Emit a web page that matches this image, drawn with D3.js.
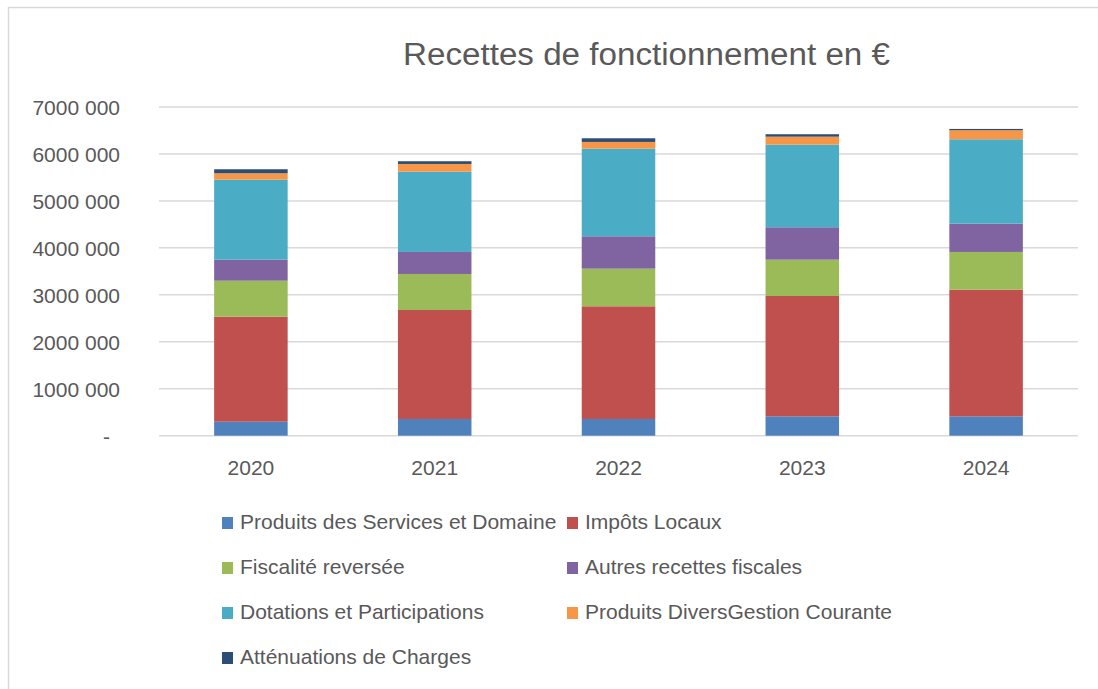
<!DOCTYPE html>
<html lang="fr">
<head>
<meta charset="UTF-8">
<title>Recettes de fonctionnement</title>
<style>
  body { margin: 0; background: #fff; }
  svg text { font-family: "Liberation Sans", Arial, sans-serif; fill: #595959; }
</style>
</head>
<body>
<svg id="chart" width="1098" height="689"></svg>
<script src="https://cdn.jsdelivr.net/npm/d3@7"></script>
<script>
"use strict";

var years = ["2020", "2021", "2022", "2023", "2024"];
var seriesNames = [
  "Produits des Services et Domaine",
  "Impôts Locaux",
  "Fiscalité reversée",
  "Autres recettes fiscales",
  "Dotations et Participations",
  "Produits DiversGestion Courante",
  "Atténuations de Charges"
];
var seriesColors = ["#4F81BD", "#C0504D", "#9BBB59", "#8064A2", "#4BACC6", "#F79646", "#2C4D75"];

var produitsServices = [298000, 356000, 356000, 413000, 413000];
var impotsLocaux     = [2237000, 2321000, 2400000, 2562000, 2697000];
var fiscaliteRev     = [766000, 767000, 801000, 774000, 803000];
var autresFiscales   = [448000, 469000, 690000, 690000, 602000];
var dotations        = [1704000, 1710000, 1866000, 1759000, 1798000];
var produitsDivers   = [136000, 164000, 143000, 170000, 192000];
var attenuations     = [85000, 58000, 78000, 52000, 28000];

var tickValues = [0, 1000000, 2000000, 3000000, 4000000, 5000000, 6000000, 7000000];
var tickLabels = ["-", "1000 000", "2000 000", "3000 000", "4000 000", "5000 000", "6000 000", "7000 000"];

var allSeries = [produitsServices, impotsLocaux, fiscaliteRev, autresFiscales, dotations, produitsDivers, attenuations];

// table for d3.stack
var table = years.map(function(yr, i) {
  var row = { year: yr };
  seriesNames.forEach(function(n, k) { row[n] = allSeries[k][i]; });
  return row;
});

var svg = d3.select("#chart");

// chart frame
svg.append("path")
  .attr("d", "M8.5,689 L8.5,7.5 L1098,7.5")
  .attr("fill", "none")
  .attr("stroke", "#D9D9D9")
  .attr("stroke-width", 1.5);

var plotLeft = 159, plotRight = 1078, plotTop = 107, plotBottom = 435.7;

var x = d3.scaleBand().domain(years).range([plotLeft, plotRight]).paddingInner(0.6).paddingOuter(0.3);
var y = d3.scaleLinear().domain([0, 7000000]).range([plotBottom, plotTop]);

// gridlines
svg.append("g")
  .selectAll("line")
  .data(tickValues)
  .enter()
  .append("line")
  .attr("x1", plotLeft).attr("x2", plotRight)
  .attr("y1", function(d) { return y(d); })
  .attr("y2", function(d) { return y(d); })
  .attr("stroke", "#D9D9D9")
  .attr("stroke-width", 1.5);

// y axis labels
var yAxis = d3.axisLeft(y)
  .tickValues(tickValues)
  .tickSize(0)
  .tickPadding(0)
  .tickFormat(function(d, i) { return tickLabels[i]; });

var yg = svg.append("g").attr("transform", "translate(120,0)").call(yAxis);
yg.select(".domain").remove();
yg.selectAll("text")
  .attr("font-size", 21)
  .attr("fill", "#595959")
  .attr("font-family", "Liberation Sans, Arial, sans-serif")
  .attr("dy", "0.35em");
// accounting style dash sits a bit left
yg.selectAll(".tick").filter(function(d) { return d === 0; })
  .select("text").attr("x", -10);

// x axis labels
var xAxis = d3.axisBottom(x).tickSize(0).tickPadding(0);
var xg = svg.append("g").attr("transform", "translate(0," + 475 + ")").call(xAxis);
xg.select(".domain").remove();
xg.selectAll("text")
  .attr("font-size", 21)
  .attr("fill", "#595959")
  .attr("font-family", "Liberation Sans, Arial, sans-serif")
  .attr("dy", 0)
  .attr("y", 0);

// stacked bars
var stack = d3.stack().keys(seriesNames);
var layers = stack(table);

svg.append("g")
  .selectAll("g")
  .data(layers)
  .enter()
  .append("g")
  .attr("fill", function(d, i) { return seriesColors[i]; })
  .selectAll("rect")
  .data(function(d) { return d; })
  .enter()
  .append("rect")
  .attr("x", function(d) { return x(d.data.year); })
  .attr("width", x.bandwidth())
  .attr("y", function(d) { return y(d[1]); })
  .attr("height", function(d) { return y(d[0]) - y(d[1]); });

// title
svg.append("text")
  .attr("x", 403)
  .attr("y", 65)
  .attr("font-size", 31)
  .attr("textLength", 487)
  .attr("lengthAdjust", "spacingAndGlyphs")
  .text("Recettes de fonctionnement  en €");

// legend
var colX = [222, 567];
var rowY = [529, 574, 619, 664];
var legend = svg.append("g")
  .selectAll("g")
  .data(seriesNames)
  .enter()
  .append("g")
  .attr("transform", function(d, i) {
    return "translate(" + colX[i % 2] + "," + rowY[Math.floor(i / 2)] + ")";
  });

legend.append("rect")
  .attr("x", 0).attr("y", -12)
  .attr("width", 11).attr("height", 12)
  .attr("fill", function(d, i) { return seriesColors[i]; });

legend.append("text")
  .attr("x", 18)
  .attr("y", 0)
  .attr("font-size", 21)
  .text(function(d) { return d; });
</script>
</body>
</html>
